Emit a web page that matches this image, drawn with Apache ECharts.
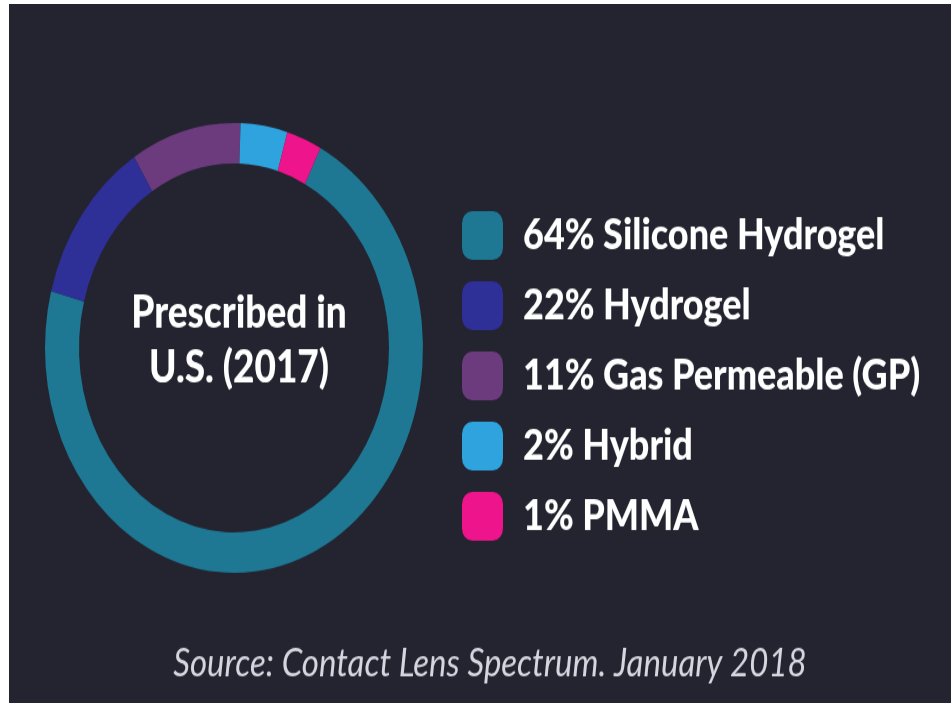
<!DOCTYPE html>
<html>
<head>
<meta charset="utf-8">
<script src="https://cdn.jsdelivr.net/npm/echarts@6/dist/echarts.min.js"></script>
<style>
  html, body { margin: 0; padding: 0; background: #ffffff; overflow: hidden; }
  /* the reference picture is stretched vertically, so the chart is drawn flat and scaled */
  #main {
    position: absolute; left: 9px; top: 4px;
    width: 942px; height: 587px;
    transform: scaleY(1.19); transform-origin: 0 0;
  }
</style>
</head>
<body>
<div id="main"></div>
<script>
var names = ['Silicone Hydrogel', 'Hydrogel', 'Gas Permeable (GP)', 'Hybrid', 'PMMA'];
var percentLabels = ['64%', '22%', '11%', '2%', '1%'];
// arc shares as drawn in the picture (they do not follow the printed percentages)
var arcShares = [71.5, 12.1, 9.4, 4.0, 3.0];
var colors = ['#1e7793', '#2f2f98', '#6c3b7d', '#2ea3dd', '#ee148b'];

var chart = echarts.init(document.getElementById('main'));

var option = {
  backgroundColor: '#23242f',
  color: colors,
  title: [{
    text: 'Prescribed in\nU.S. (2017)',
    left: 225,
    top: 232,
    textAlign: 'center',
    textStyle: {
      color: '#ffffff',
      fontFamily: 'Lato',
      fontWeight: 900,
      fontSize: 37,
      lineHeight: 46
    }
  }, {
    text: 'Source: Contact Lens Spectrum. January 2018',
    left: 476,
    top: 533,
    textAlign: 'center',
    textStyle: {
      color: '#d6d7de',
      fontFamily: 'Lato',
      fontStyle: 'italic',
      fontWeight: 'normal',
      fontSize: 33
    }
  }],
  legend: {
    orient: 'vertical',
    left: 448,
    top: 169,
    icon: 'roundRect',
    itemWidth: 41,
    itemHeight: 41,
    itemGap: 18,
    selectedMode: false,
    formatter: function (name) {
      var i = names.indexOf(name);
      return percentLabels[i] + ' ' + name;
    },
    textStyle: {
      color: '#ffffff',
      fontFamily: 'Lato',
      fontWeight: 900,
      fontSize: 36,
      lineHeight: 41,
      padding: [0, 0, 0, 15]
    }
  },
  series: [{
    type: 'pie',
    center: [225, 289],
    radius: [155, 189],
    startAngle: 62.8,
    clockwise: true,
    silent: true,
    label: { show: false },
    labelLine: { show: false },
    itemStyle: { borderWidth: 0 },
    data: names.map(function (n, i) {
      return { name: n, value: arcShares[i] };
    })
  }]
};

chart.setOption(option);
</script>
</body>
</html>
